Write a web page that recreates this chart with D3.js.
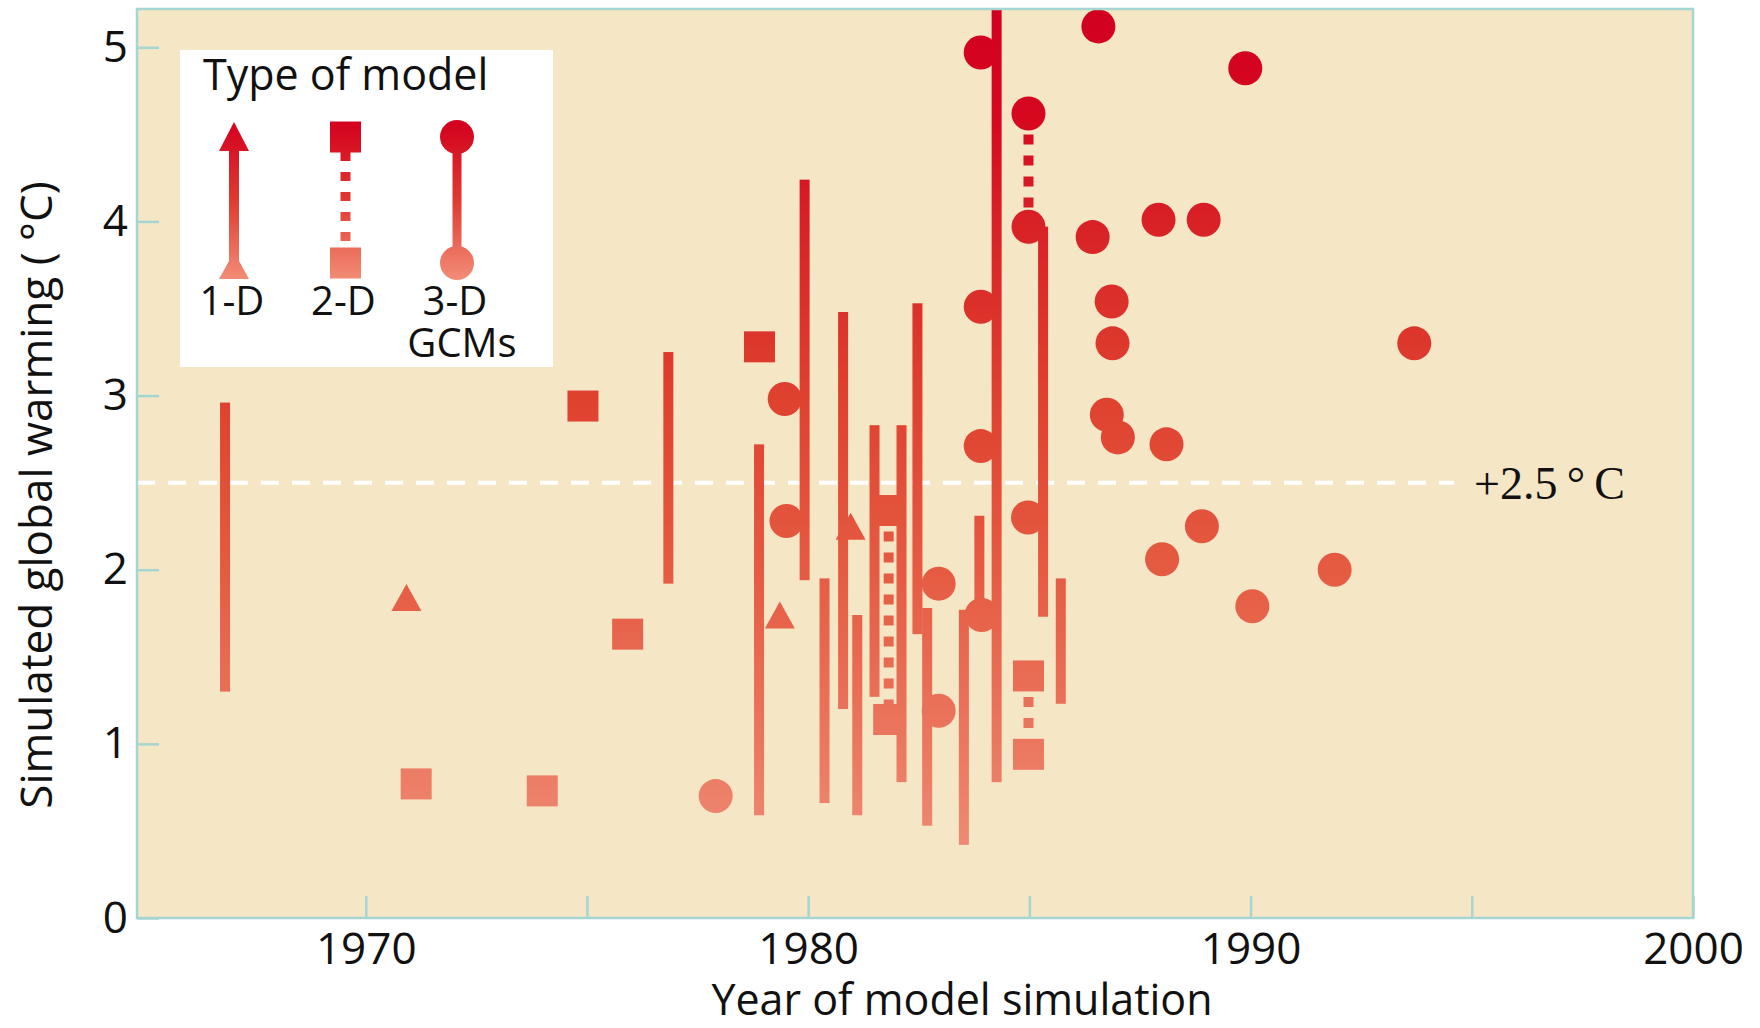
<!DOCTYPE html>
<html>
<head>
<meta charset="utf-8">
<script src="https://cdn.jsdelivr.net/npm/d3@7"></script>
<style>
  body { margin: 0; background: #fff; }
  text { font-family: "Open Sans", sans-serif; fill: #111; }
</style>
</head>
<body>
<div id="chart"></div>
<script>
// Plain range bars (year, top, bottom)
const barYears   = [1966.82, 1976.84, 1978.89, 1979.92, 1980.37, 1980.79, 1981.11, 1981.50, 1982.11, 1982.47, 1982.69, 1983.52, 1983.87, 1984.26, 1985.31, 1985.71];
const barTops    = [2.96, 3.25, 2.72, 4.24, 1.95, 3.48, 1.74, 2.83, 2.83, 3.53, 1.78, 1.77, 2.31, 5.22, 3.97, 1.95];
const barBottoms = [1.30, 1.92, 0.59, 1.94, 0.66, 1.20, 0.59, 1.27, 0.78, 1.63, 0.53, 0.42, 1.74, 0.78, 1.73, 1.23];

// 3-D GCMs (circles)
const circleYears  = [1977.91, 1979.47, 1979.51, 1982.95, 1982.95, 1983.90, 1983.90, 1983.90, 1983.92, 1984.98, 1984.98, 1984.97, 1986.43, 1986.56, 1986.75, 1986.86, 1986.88, 1987.00, 1987.92, 1988.00, 1988.10, 1988.90, 1988.94, 1989.88, 1990.04, 1991.90, 1993.70];
const circleValues = [0.70, 2.98, 2.28, 1.92, 1.19, 4.97, 3.51, 2.71, 1.74, 4.62, 3.97, 2.30, 3.91, 5.12, 2.89, 3.54, 3.30, 2.76, 4.01, 2.06, 2.72, 2.25, 4.01, 4.88, 1.79, 2.00, 3.30];

// 2-D models (squares)
const squareYears  = [1971.14, 1973.99, 1974.91, 1975.92, 1978.90, 1981.82, 1981.82, 1984.98, 1984.98];
const squareValues = [0.77, 0.73, 2.94, 1.63, 3.28, 2.34, 1.14, 1.39, 0.94];

// 1-D models (triangles)
const triangleYears  = [1970.92, 1979.36, 1980.96];
const triangleValues = [1.84, 1.74, 2.25];

// dotted links between paired results
const dottedYears   = [1981.82, 1984.98, 1984.98];
const dottedTops    = [2.34, 4.62, 1.39];
const dottedBottoms = [1.14, 3.97, 0.94];

const yTicks = [0, 1, 2, 3, 4, 5];
const xTicks = [1970, 1975, 1980, 1985, 1990, 1995, 2000];
const xTickLabels = ["1970", "", "1980", "", "1990", "", "2000"];
const refValue = 2.5;
const refEnd = 1994.6;

const legendTypes = ["1-D", "2-D", "3-D"];

// Layout
const width = 1760, height = 1028;
const plot = { left: 137, right: 1693, top: 9, bottom: 918 };

const svg = d3.select("#chart")
    .append("svg")
    .attr("width", width)
    .attr("height", height);

const x = d3.scaleLinear().domain([1964.83, 2000]).range([plot.left, plot.right]);
const y = d3.scaleLinear().domain([0, 5.22]).range([plot.bottom, plot.top]);

const defs = svg.append("defs");

// colour follows the warming value
const stops = [[5.22, "#d20020"], [4.6, "#d6081f"], [4.0, "#d82126"], [3.0, "#df412f"], [2.0, "#e55b42"], [1.0, "#eb775f"], [0.4, "#ef8a74"]];
const grad = defs.append("linearGradient")
    .attr("id", "warm")
    .attr("gradientUnits", "userSpaceOnUse")
    .attr("x1", 0).attr("x2", 0)
    .attr("y1", y(5.22)).attr("y2", y(0.4));
stops.forEach(s => {
    grad.append("stop")
        .attr("offset", (y(s[0]) - y(5.22)) / (y(0.4) - y(5.22)))
        .attr("stop-color", s[1]);
});

defs.append("clipPath").attr("id", "plotClip")
    .append("rect")
    .attr("x", plot.left).attr("y", plot.top)
    .attr("width", plot.right - plot.left).attr("height", plot.bottom - plot.top);

// Background
svg.append("rect")
    .attr("x", plot.left).attr("y", plot.top)
    .attr("width", plot.right - plot.left).attr("height", plot.bottom - plot.top)
    .attr("fill", "#f5e6c6");

// +2.5 reference line
svg.append("line")
    .attr("x1", x(1964.83)).attr("x2", x(refEnd))
    .attr("y1", y(refValue)).attr("y2", y(refValue))
    .attr("stroke", "#fff")
    .attr("stroke-width", 4)
    .attr("stroke-dasharray", "18,13");

svg.append("text")
    .attr("x", x(refEnd) + 20)
    .attr("y", y(refValue))
    .attr("dy", "0.35em")
    .style("font-family", "'Liberation Serif', serif")
    .style("font-size", "46px")
    .text("+2.5\u2009°\u2009C");

const marks = svg.append("g").attr("clip-path", "url(#plotClip)");

// dotted links
marks.selectAll(".dotted")
    .data(dottedYears.map((d, i) => ({ year: d, top: dottedTops[i], bottom: dottedBottoms[i] })))
    .enter().append("line")
    .attr("x1", d => x(d.year)).attr("x2", d => x(d.year))
    .attr("y1", d => y(d.top)).attr("y2", d => y(d.bottom))
    .attr("stroke", "url(#warm)")
    .attr("stroke-width", 10)
    .attr("stroke-dasharray", "10,11");

// bars
marks.selectAll(".bar")
    .data(barYears.map((d, i) => ({ year: d, top: barTops[i], bottom: barBottoms[i] })))
    .enter().append("rect")
    .attr("x", d => x(d.year) - 5)
    .attr("y", d => y(d.top))
    .attr("width", 10)
    .attr("height", d => y(d.bottom) - y(d.top))
    .attr("fill", "url(#warm)");

// circles
marks.selectAll(".gcm")
    .data(circleYears.map((d, i) => ({ year: d, value: circleValues[i] })))
    .enter().append("circle")
    .attr("cx", d => x(d.year))
    .attr("cy", d => y(d.value))
    .attr("r", 17)
    .attr("fill", "url(#warm)");

// squares
marks.selectAll(".sq")
    .data(squareYears.map((d, i) => ({ year: d, value: squareValues[i] })))
    .enter().append("rect")
    .attr("x", d => x(d.year) - 15.5)
    .attr("y", d => y(d.value) - 15.5)
    .attr("width", 31)
    .attr("height", 31)
    .attr("fill", "url(#warm)");

// triangles
const triW = 30, triH = 27;
marks.selectAll(".tri")
    .data(triangleYears.map((d, i) => ({ year: d, value: triangleValues[i] })))
    .enter().append("path")
    .attr("d", d => {
        const cx = x(d.year), cy = y(d.value);
        return `M${cx},${cy - triH / 2}L${cx + triW / 2},${cy + triH / 2}L${cx - triW / 2},${cy + triH / 2}Z`;
    })
    .attr("fill", "url(#warm)");

// Frame
svg.append("rect")
    .attr("x", plot.left).attr("y", plot.top)
    .attr("width", plot.right - plot.left).attr("height", plot.bottom - plot.top)
    .attr("fill", "none")
    .attr("stroke", "#a6d6d2")
    .attr("stroke-width", 2.5);

// Axes
const yAxis = svg.append("g")
    .attr("transform", `translate(${plot.left},0)`)
    .call(d3.axisLeft(y).tickValues(yTicks).tickSize(-22).tickPadding(9).tickFormat(d3.format("d")));
const xAxis = svg.append("g")
    .attr("transform", `translate(0,${plot.bottom})`)
    .call(d3.axisBottom(x).tickValues(xTicks).tickSize(-22).tickPadding(15).tickFormat((d, i) => xTickLabels[i]));

[yAxis, xAxis].forEach(a => {
    a.select(".domain").remove();
    a.selectAll("line").attr("stroke", "#a6d6d2").attr("stroke-width", 2.5);
    a.selectAll("text")
        .attr("fill", "#111")
        .style("font-family", "'Open Sans', sans-serif")
        .style("font-size", "44px");
});

// Axis titles
svg.append("text")
    .attr("x", 962)
    .attr("y", 1015)
    .attr("text-anchor", "middle")
    .style("font-size", "43px")
    .text("Year of model simulation");

svg.append("text")
    .attr("transform", `translate(52,495) rotate(-90)`)
    .attr("text-anchor", "middle")
    .style("font-size", "44px")
    .text("Simulated global warming ( °C)");

// Legend
const legend = svg.append("g");
legend.append("rect")
    .attr("x", 180).attr("y", 50)
    .attr("width", 373).attr("height", 317)
    .attr("fill", "#fff");

legend.append("text")
    .attr("x", 203).attr("y", 90)
    .style("font-size", "43px")
    .text("Type of model");

const lgTop = 137, lgBottom = 263;
const lg = defs.append("linearGradient")
    .attr("id", "legendGrad")
    .attr("gradientUnits", "userSpaceOnUse")
    .attr("x1", 0).attr("x2", 0)
    .attr("y1", lgTop - 16).attr("y2", lgBottom + 16);
lg.append("stop").attr("offset", 0).attr("stop-color", "#d4001f");
lg.append("stop").attr("offset", 0.5).attr("stop-color", "#df3a30");
lg.append("stop").attr("offset", 1).attr("stop-color", "#f28c76");

const legendX = d3.scalePoint().domain(legendTypes).range([234, 457]);

// 1-D arrow
const ax = legendX("1-D");
legend.append("rect")
    .attr("x", ax - 5).attr("y", lgTop).attr("width", 10).attr("height", lgBottom - lgTop)
    .attr("fill", "url(#legendGrad)");
legend.append("path")
    .attr("d", `M${ax},${lgTop - 15}L${ax + 15},${lgTop + 14}L${ax - 15},${lgTop + 14}Z`)
    .attr("fill", "url(#legendGrad)");
legend.append("path")
    .attr("d", `M${ax},${lgBottom - 11}L${ax + 15},${lgBottom + 16}L${ax - 15},${lgBottom + 16}Z`)
    .attr("fill", "url(#legendGrad)");

// 2-D squares with dotted link
const sx = legendX("2-D");
legend.append("line")
    .attr("x1", sx).attr("x2", sx)
    .attr("y1", lgTop + 15).attr("y2", lgBottom - 15)
    .attr("stroke", "url(#legendGrad)")
    .attr("stroke-width", 10)
    .attr("stroke-dasharray", "9,11");
[lgTop, lgBottom].forEach(cy => {
    legend.append("rect")
        .attr("x", sx - 15.5).attr("y", cy - 15.5).attr("width", 31).attr("height", 31)
        .attr("fill", "url(#legendGrad)");
});

// 3-D circles with solid link
const cxl = legendX("3-D");
legend.append("rect")
    .attr("x", cxl - 4.5).attr("y", lgTop).attr("width", 9).attr("height", lgBottom - lgTop)
    .attr("fill", "url(#legendGrad)");
[lgTop, lgBottom].forEach(cy => {
    legend.append("circle")
        .attr("cx", cxl).attr("cy", cy).attr("r", 17)
        .attr("fill", "url(#legendGrad)");
});

legend.selectAll(".lglabel")
    .data(legendTypes)
    .enter().append("text")
    .attr("x", d => legendX(d) - 2)
    .attr("y", 315)
    .attr("text-anchor", "middle")
    .style("font-size", "40px")
    .text(d => d);

legend.append("text")
    .attr("x", 462).attr("y", 357)
    .attr("text-anchor", "middle")
    .style("font-size", "40px")
    .text("GCMs");
</script>
</body>
</html>
